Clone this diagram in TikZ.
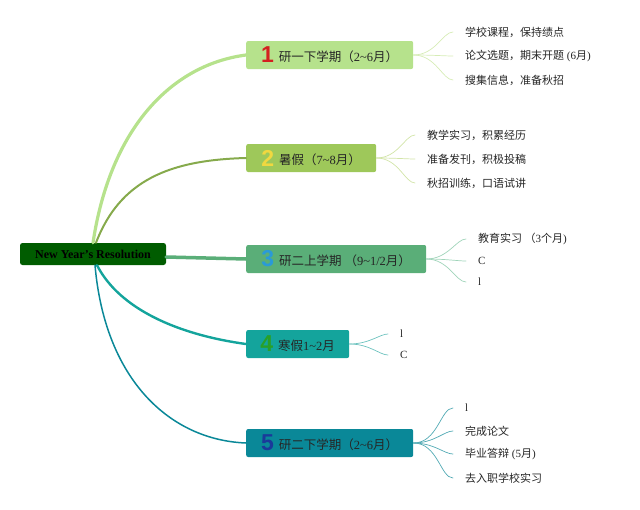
\documentclass[tikz,border=0pt]{standalone}
\usepackage{fontspec}
\setmainfont{Liberation Serif}
\newfontfamily\cjk{Noto Sans CJK SC}
\newfontfamily\numfont{Liberation Sans}
\newcommand\lat[1]{{\rmfamily #1}}
\newcommand\num[2]{{\numfont\bfseries\fontsize{23}{23}\selectfont\color{#1}\raisebox{-1.5pt}{#2}}\hspace{5pt}}
\definecolor{rootg}{HTML}{005C00}
\definecolor{g1}{HTML}{B6E28C}
\definecolor{g2}{HTML}{9EC85A}
\definecolor{g3}{HTML}{5AAE78}
\definecolor{g4}{HTML}{14A49C}
\definecolor{g5}{HTML}{0A8898}
\definecolor{t1}{HTML}{D6ECB6}
\definecolor{t2}{HTML}{D2E4A8}
\definecolor{t3}{HTML}{A0D4BA}
\definecolor{t4}{HTML}{6CC2BE}
\definecolor{t5}{HTML}{52AAB4}
\definecolor{n1}{HTML}{D42020}
\definecolor{n2}{HTML}{F0D840}
\definecolor{n3}{HTML}{2A9AD8}
\definecolor{n4}{HTML}{28A028}
\definecolor{n5}{HTML}{1A3A9A}
\begin{document}
\begin{tikzpicture}[x=1pt,y=-1pt,line cap=round,line join=round,
  main/.style={anchor=west,minimum height=28pt,inner sep=0pt,rounded corners=2pt,
    font=\cjk\fontsize{12.5}{14}\selectfont,text=black!85},
  leaf/.style={anchor=west,inner sep=0pt,font=\cjk\fontsize{11}{13}\selectfont,text=black!85},
  tw/.style={line width=.7pt,shorten >=12pt}]
\useasboundingbox (0,0) rectangle (640,509);
\node[fill=rootg,rounded corners=2.5pt,minimum width=146pt,minimum height=22pt,inner sep=0pt,
  font=\bfseries\fontsize{12}{14}\selectfont,text=black] (root) at (93,254) {New Year's Resolution};
\node[main,fill=g1,minimum width=167pt] (b1) at (246,55) {\num{n1}{1}研一下学期（\lat{2\textasciitilde6}月）};
\node[main,fill=g2,minimum width=130pt] (b2) at (246,158) {\num{n2}{2}暑假（\lat{7\textasciitilde8}月）};
\node[main,fill=g3,minimum width=180pt] (b3) at (246,259) {\num{n3}{3}研二上学期 （\lat{9\textasciitilde1/2}月）};
\node[main,fill=g4,minimum width=103pt] (b4) at (246,344) {\num{n4}{4}寒假\lat{1\textasciitilde2}月};
\node[main,fill=g5,minimum width=167pt] (b5) at (246,443) {\num{n5}{5}研二下学期（\lat{2\textasciitilde6}月）};
% branches
\draw[g1,line width=3.2pt] (root.north) .. controls (110,130) and (170,65) .. (b1.west);
\draw[g2!85!black,line width=2pt] ([xshift=3pt]root.north) .. controls (120,180) and (170,160) .. (b2.west);
\draw[g3,line width=3.5pt] ([yshift=-3pt]root.east) -- (b3.west);
\draw[g4,line width=2.4pt] ([xshift=4pt]root.south) .. controls (120,310) and (180,335) .. (b4.west);
\draw[g5,line width=1.5pt] ([xshift=2pt]root.south) .. controls (105,380) and (170,440) .. (b5.west);
% leaves
\foreach \t/\y [count=\i] in {学校课程，保持绩点/32,{论文选题，期末开题\lat{ (6}月\lat{)}}/56,搜集信息，准备秋招/80}{
  \node[leaf] (c1\i) at (465,\y) {\t};
  \draw[t1,tw] (b1.east) to[out=0,in=180] (c1\i.west);}
\foreach \t/\y [count=\i] in {教学实习，积累经历/135,准备发刊，积极投稿/159,秋招训练，口语试讲/183}{
  \node[leaf] (c2\i) at (427,\y) {\t};
  \draw[t2,tw] (b2.east) to[out=0,in=180] (c2\i.west);}
\foreach \t/\y [count=\i] in {{教育实习 （\lat{3}个月\lat{)}}/239,\lat{C}/261,\lat{l}/282}{
  \node[leaf] (c3\i) at (478,\y) {\t};
  \draw[t3,tw] (b3.east) to[out=0,in=180] (c3\i.west);}
\foreach \t/\y [count=\i] in {\lat{l}/334,\lat{C}/355}{
  \node[leaf] (c4\i) at (400,\y) {\t};
  \draw[t4,tw] (b4.east) to[out=0,in=180] (c4\i.west);}
\foreach \t/\y [count=\i] in {\lat{l}/408,完成论文/431,{毕业答辩\lat{ (5}月\lat{)}}/454,去入职学校实习/478}{
  \node[leaf] (c5\i) at (465,\y) {\t};
  \draw[t5,tw] (b5.east) to[out=0,in=180] (c5\i.west);}
\end{tikzpicture}
\end{document}
